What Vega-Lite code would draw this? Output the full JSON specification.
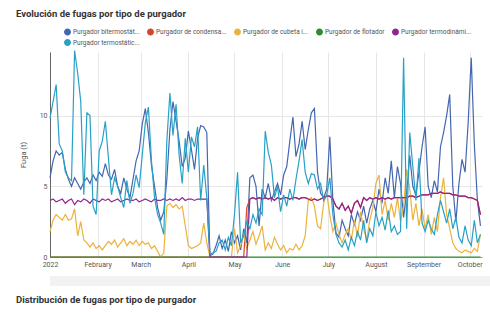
{
  "$schema": "https://vega.github.io/schema/vega-lite/v6.json",
  "padding": {"left": 16, "top": 8, "right": 0, "bottom": 0},
  "background": "white",
  "spacing": 8,
  "columns": 1,
  "align": "none",
  "config": {"view": {"stroke": null}, "font": "Roboto"},
  "datasets": {
    "fugas": [
      {"d":"2022-01-01","bi":5.6,"co":0,"cu":1.8,"fl":0,"td":4.0,"te":9.8},
      {"d":"2022-01-03","bi":6.8,"co":0,"cu":2.6,"fl":0,"td":4.1,"te":11.0},
      {"d":"2022-01-05","bi":7.5,"co":0,"cu":3.0,"fl":0,"td":3.9,"te":12.2},
      {"d":"2022-01-07","bi":7.2,"co":0,"cu":2.8,"fl":0,"td":4.0,"te":8.0},
      {"d":"2022-01-09","bi":7.4,"co":0,"cu":2.6,"fl":0,"td":4.1,"te":7.5},
      {"d":"2022-01-11","bi":6.2,"co":0,"cu":3.0,"fl":0,"td":3.8,"te":6.0},
      {"d":"2022-01-13","bi":5.5,"co":0,"cu":2.6,"fl":0,"td":4.0,"te":5.6},
      {"d":"2022-01-15","bi":5.0,"co":0,"cu":2.7,"fl":0,"td":4.1,"te":5.4},
      {"d":"2022-01-17","bi":5.6,"co":0,"cu":3.4,"fl":0,"td":3.7,"te":14.6},
      {"d":"2022-01-19","bi":5.2,"co":0,"cu":1.5,"fl":0,"td":4.0,"te":13.0},
      {"d":"2022-01-21","bi":4.8,"co":0,"cu":2.5,"fl":0,"td":3.9,"te":11.0},
      {"d":"2022-01-23","bi":5.3,"co":0,"cu":1.2,"fl":0,"td":4.1,"te":4.4},
      {"d":"2022-01-25","bi":5.6,"co":0,"cu":1.0,"fl":0,"td":4.0,"te":10.2},
      {"d":"2022-01-27","bi":5.2,"co":0,"cu":0.7,"fl":0,"td":3.8,"te":10.0},
      {"d":"2022-01-29","bi":5.8,"co":0,"cu":1.0,"fl":0,"td":4.1,"te":3.6},
      {"d":"2022-01-31","bi":5.4,"co":0,"cu":0.6,"fl":0,"td":4.0,"te":3.0},
      {"d":"2022-02-02","bi":6.0,"co":0,"cu":0.8,"fl":0,"td":3.9,"te":7.5},
      {"d":"2022-02-04","bi":5.7,"co":0,"cu":0.5,"fl":0,"td":4.1,"te":8.2},
      {"d":"2022-02-06","bi":6.6,"co":0,"cu":0.8,"fl":0,"td":4.0,"te":9.6},
      {"d":"2022-02-08","bi":5.8,"co":0,"cu":1.1,"fl":0,"td":4.1,"te":7.0},
      {"d":"2022-02-10","bi":5.5,"co":0,"cu":0.9,"fl":0,"td":3.9,"te":4.4},
      {"d":"2022-02-12","bi":6.2,"co":0,"cu":1.2,"fl":0,"td":4.0,"te":5.6},
      {"d":"2022-02-14","bi":5.0,"co":0,"cu":0.7,"fl":0,"td":4.1,"te":5.0},
      {"d":"2022-02-16","bi":4.5,"co":0,"cu":1.0,"fl":0,"td":3.9,"te":4.2},
      {"d":"2022-02-18","bi":5.6,"co":0,"cu":1.3,"fl":0,"td":4.0,"te":3.5},
      {"d":"2022-02-20","bi":4.8,"co":0,"cu":0.8,"fl":0,"td":4.1,"te":5.4},
      {"d":"2022-02-22","bi":4.2,"co":0,"cu":1.1,"fl":0,"td":4.0,"te":3.8},
      {"d":"2022-02-24","bi":5.5,"co":0,"cu":0.9,"fl":0,"td":4.0,"te":4.5},
      {"d":"2022-02-26","bi":6.8,"co":0,"cu":1.2,"fl":0,"td":4.1,"te":5.8},
      {"d":"2022-02-28","bi":7.5,"co":0,"cu":0.8,"fl":0,"td":3.9,"te":4.9},
      {"d":"2022-03-02","bi":9.4,"co":0,"cu":1.1,"fl":0,"td":4.0,"te":7.2},
      {"d":"2022-03-04","bi":10.5,"co":0,"cu":0.9,"fl":0,"td":4.1,"te":9.5},
      {"d":"2022-03-06","bi":8.8,"co":0,"cu":1.0,"fl":0,"td":4.0,"te":10.6},
      {"d":"2022-03-08","bi":6.5,"co":0,"cu":0.6,"fl":0,"td":3.9,"te":6.8},
      {"d":"2022-03-10","bi":5.0,"co":0,"cu":0.8,"fl":0,"td":4.1,"te":4.2},
      {"d":"2022-03-12","bi":3.5,"co":0,"cu":0.4,"fl":0,"td":4.0,"te":3.0},
      {"d":"2022-03-14","bi":2.6,"co":0,"cu":0.0,"fl":0,"td":4.0,"te":2.4},
      {"d":"2022-03-16","bi":3.2,"co":0,"cu":0.3,"fl":0,"td":4.1,"te":1.6},
      {"d":"2022-03-18","bi":5.5,"co":0,"cu":3.6,"fl":0,"td":4.0,"te":8.2},
      {"d":"2022-03-20","bi":9.0,"co":0,"cu":3.8,"fl":0,"td":4.1,"te":11.6},
      {"d":"2022-03-22","bi":11.0,"co":0,"cu":3.5,"fl":0,"td":4.0,"te":8.6},
      {"d":"2022-03-24","bi":9.6,"co":0,"cu":3.7,"fl":0,"td":4.1,"te":10.8},
      {"d":"2022-03-26","bi":8.2,"co":0,"cu":3.4,"fl":0,"td":4.0,"te":7.2},
      {"d":"2022-03-28","bi":6.4,"co":0,"cu":3.6,"fl":0,"td":4.2,"te":5.2},
      {"d":"2022-03-30","bi":7.0,"co":0,"cu":2.2,"fl":0,"td":4.0,"te":8.4},
      {"d":"2022-04-01","bi":8.9,"co":0,"cu":0.8,"fl":0,"td":4.1,"te":6.0},
      {"d":"2022-04-03","bi":7.6,"co":0,"cu":0.6,"fl":0,"td":4.1,"te":8.5},
      {"d":"2022-04-05","bi":6.2,"co":0,"cu":0.7,"fl":0,"td":4.0,"te":7.8},
      {"d":"2022-04-07","bi":8.4,"co":0,"cu":0.8,"fl":0,"td":4.1,"te":9.2},
      {"d":"2022-04-09","bi":9.3,"co":0,"cu":1.0,"fl":0,"td":4.1,"te":4.0},
      {"d":"2022-04-11","bi":9.2,"co":0,"cu":2.4,"fl":0,"td":4.1,"te":6.5},
      {"d":"2022-04-13","bi":8.8,"co":0,"cu":1.0,"fl":0,"td":4.1,"te":4.2},
      {"d":"2022-04-15","bi":0.1,"co":0,"cu":0,"fl":0,"td":0,"te":0.2},
      {"d":"2022-04-17","bi":0.2,"co":0,"cu":0,"fl":0,"td":0,"te":0.3},
      {"d":"2022-04-19","bi":0.8,"co":0,"cu":0,"fl":0,"td":0,"te":0.4},
      {"d":"2022-04-21","bi":1.5,"co":0,"cu":0,"fl":0,"td":0,"te":1.0},
      {"d":"2022-04-23","bi":0.6,"co":0,"cu":0,"fl":0,"td":0,"te":1.2},
      {"d":"2022-04-25","bi":1.2,"co":0,"cu":0,"fl":0,"td":0,"te":0.5},
      {"d":"2022-04-27","bi":0.4,"co":0,"cu":0,"fl":0,"td":0,"te":1.4},
      {"d":"2022-04-29","bi":1.8,"co":0,"cu":0,"fl":0,"td":0,"te":0.8},
      {"d":"2022-05-01","bi":1.0,"co":0,"cu":2.0,"fl":0,"td":0,"te":3.0},
      {"d":"2022-05-03","bi":1.5,"co":0,"cu":0.3,"fl":0,"td":0,"te":6.0},
      {"d":"2022-05-05","bi":0.5,"co":0,"cu":0.8,"fl":0,"td":0,"te":1.0},
      {"d":"2022-05-07","bi":2.0,"co":0,"cu":1.6,"fl":0,"td":0,"te":1.5},
      {"d":"2022-05-09","bi":1.0,"co":3.5,"cu":0.6,"fl":0,"td":0,"te":2.5},
      {"d":"2022-05-11","bi":5.6,"co":4.1,"cu":1.2,"fl":0,"td":4.1,"te":2.0},
      {"d":"2022-05-13","bi":5.8,"co":4.2,"cu":1.8,"fl":0,"td":4.2,"te":3.0},
      {"d":"2022-05-15","bi":5.0,"co":4.1,"cu":0.9,"fl":0,"td":4.1,"te":2.4},
      {"d":"2022-05-17","bi":2.2,"co":4.2,"cu":1.5,"fl":0,"td":4.2,"te":3.4},
      {"d":"2022-05-19","bi":4.8,"co":4.1,"cu":2.2,"fl":0,"td":4.1,"te":3.0},
      {"d":"2022-05-21","bi":4.2,"co":4.2,"cu":0.5,"fl":0,"td":4.2,"te":8.9},
      {"d":"2022-05-23","bi":5.2,"co":4.1,"cu":1.0,"fl":0,"td":4.1,"te":7.4},
      {"d":"2022-05-25","bi":4.0,"co":4.2,"cu":0.6,"fl":0,"td":4.2,"te":6.5},
      {"d":"2022-05-27","bi":4.6,"co":4.0,"cu":1.4,"fl":0,"td":4.0,"te":4.2},
      {"d":"2022-05-29","bi":5.2,"co":4.2,"cu":0.9,"fl":0,"td":4.2,"te":5.0},
      {"d":"2022-05-31","bi":4.4,"co":4.1,"cu":0.5,"fl":0,"td":4.1,"te":3.2},
      {"d":"2022-06-02","bi":5.8,"co":4.2,"cu":0.8,"fl":0,"td":4.2,"te":4.4},
      {"d":"2022-06-04","bi":6.4,"co":4.2,"cu":0.3,"fl":0,"td":4.2,"te":3.6},
      {"d":"2022-06-06","bi":8.2,"co":4.1,"cu":0.6,"fl":0,"td":4.1,"te":4.8},
      {"d":"2022-06-08","bi":9.9,"co":4.2,"cu":0.5,"fl":0,"td":4.2,"te":4.0},
      {"d":"2022-06-10","bi":7.1,"co":4.2,"cu":0.9,"fl":0,"td":4.2,"te":5.5},
      {"d":"2022-06-12","bi":8.0,"co":4.1,"cu":0.5,"fl":0,"td":4.1,"te":6.8},
      {"d":"2022-06-14","bi":9.6,"co":4.2,"cu":0.8,"fl":0,"td":4.2,"te":8.3},
      {"d":"2022-06-16","bi":7.6,"co":4.2,"cu":1.5,"fl":0,"td":4.2,"te":6.0},
      {"d":"2022-06-18","bi":9.0,"co":4.1,"cu":4.0,"fl":0,"td":4.1,"te":5.2},
      {"d":"2022-06-20","bi":10.2,"co":4.0,"cu":4.2,"fl":0,"td":4.0,"te":5.9},
      {"d":"2022-06-22","bi":10.5,"co":4.1,"cu":3.6,"fl":0,"td":4.1,"te":5.8},
      {"d":"2022-06-24","bi":6.0,"co":4.0,"cu":2.2,"fl":0,"td":4.0,"te":4.8},
      {"d":"2022-06-26","bi":4.5,"co":4.1,"cu":2.0,"fl":0,"td":4.1,"te":5.2},
      {"d":"2022-06-28","bi":4.2,"co":4.2,"cu":3.8,"fl":0,"td":4.2,"te":4.0},
      {"d":"2022-06-30","bi":4.8,"co":4.3,"cu":4.5,"fl":0,"td":4.3,"te":4.4},
      {"d":"2022-07-02","bi":8.5,"co":4.3,"cu":3.0,"fl":0,"td":4.3,"te":5.6},
      {"d":"2022-07-04","bi":4.0,"co":4.1,"cu":1.8,"fl":0,"td":4.1,"te":3.0},
      {"d":"2022-07-06","bi":1.7,"co":3.6,"cu":2.4,"fl":0,"td":3.6,"te":1.6},
      {"d":"2022-07-08","bi":1.4,"co":3.4,"cu":1.6,"fl":0,"td":3.4,"te":1.0},
      {"d":"2022-07-10","bi":2.6,"co":3.8,"cu":1.0,"fl":0,"td":3.8,"te":0.7},
      {"d":"2022-07-12","bi":2.0,"co":3.3,"cu":1.6,"fl":0,"td":3.3,"te":1.2},
      {"d":"2022-07-14","bi":1.5,"co":3.6,"cu":2.0,"fl":0,"td":3.6,"te":0.5},
      {"d":"2022-07-16","bi":3.0,"co":3.1,"cu":1.2,"fl":0,"td":3.1,"te":1.4},
      {"d":"2022-07-18","bi":2.3,"co":3.8,"cu":2.6,"fl":0,"td":3.8,"te":0.8},
      {"d":"2022-07-20","bi":3.2,"co":4.0,"cu":1.4,"fl":0,"td":4.0,"te":1.8},
      {"d":"2022-07-22","bi":2.6,"co":3.5,"cu":3.2,"fl":0,"td":3.5,"te":1.2},
      {"d":"2022-07-24","bi":3.6,"co":4.2,"cu":2.0,"fl":0,"td":4.2,"te":2.6},
      {"d":"2022-07-26","bi":2.4,"co":4.0,"cu":1.2,"fl":0,"td":4.0,"te":1.0},
      {"d":"2022-07-28","bi":3.4,"co":4.2,"cu":2.6,"fl":0,"td":4.2,"te":2.0},
      {"d":"2022-07-30","bi":4.0,"co":4.1,"cu":3.5,"fl":0,"td":4.1,"te":1.5},
      {"d":"2022-08-01","bi":3.2,"co":4.2,"cu":5.2,"fl":0,"td":4.2,"te":3.2},
      {"d":"2022-08-03","bi":4.8,"co":4.1,"cu":5.8,"fl":0,"td":4.1,"te":2.2},
      {"d":"2022-08-05","bi":3.8,"co":4.2,"cu":3.0,"fl":0,"td":4.2,"te":2.8},
      {"d":"2022-08-07","bi":5.6,"co":4.1,"cu":4.0,"fl":0,"td":4.1,"te":1.9},
      {"d":"2022-08-09","bi":4.5,"co":4.2,"cu":2.6,"fl":0,"td":4.2,"te":3.3},
      {"d":"2022-08-11","bi":6.8,"co":4.1,"cu":3.8,"fl":0,"td":4.1,"te":1.8},
      {"d":"2022-08-13","bi":4.2,"co":4.2,"cu":2.8,"fl":0,"td":4.2,"te":2.2},
      {"d":"2022-08-15","bi":6.4,"co":4.2,"cu":4.2,"fl":0,"td":4.2,"te":1.6},
      {"d":"2022-08-17","bi":5.2,"co":4.2,"cu":2.5,"fl":0,"td":4.2,"te":1.8},
      {"d":"2022-08-19","bi":2.8,"co":4.2,"cu":3.6,"fl":0,"td":4.2,"te":14.1},
      {"d":"2022-08-21","bi":4.6,"co":4.2,"cu":6.2,"fl":0,"td":4.2,"te":2.0},
      {"d":"2022-08-23","bi":7.2,"co":4.3,"cu":4.8,"fl":0,"td":4.3,"te":8.8},
      {"d":"2022-08-25","bi":5.0,"co":4.3,"cu":2.6,"fl":0,"td":4.3,"te":6.4},
      {"d":"2022-08-27","bi":4.4,"co":4.2,"cu":3.8,"fl":0,"td":4.2,"te":4.0},
      {"d":"2022-08-29","bi":6.0,"co":4.3,"cu":2.2,"fl":0,"td":4.3,"te":7.0},
      {"d":"2022-08-31","bi":7.8,"co":4.4,"cu":3.4,"fl":0,"td":4.4,"te":2.4},
      {"d":"2022-09-02","bi":9.2,"co":4.4,"cu":2.0,"fl":0,"td":4.4,"te":1.8},
      {"d":"2022-09-04","bi":5.0,"co":4.4,"cu":3.0,"fl":0,"td":4.4,"te":2.6},
      {"d":"2022-09-06","bi":4.2,"co":4.5,"cu":1.6,"fl":0,"td":4.5,"te":2.0},
      {"d":"2022-09-08","bi":5.4,"co":4.5,"cu":2.8,"fl":0,"td":4.5,"te":1.6},
      {"d":"2022-09-10","bi":4.6,"co":4.5,"cu":1.8,"fl":0,"td":4.5,"te":3.0},
      {"d":"2022-09-12","bi":7.8,"co":4.6,"cu":4.2,"fl":0,"td":4.6,"te":4.0},
      {"d":"2022-09-14","bi":8.8,"co":4.5,"cu":5.6,"fl":0,"td":4.5,"te":3.2},
      {"d":"2022-09-16","bi":10.0,"co":4.5,"cu":3.0,"fl":0,"td":4.5,"te":2.4},
      {"d":"2022-09-18","bi":11.5,"co":4.5,"cu":2.0,"fl":0,"td":4.5,"te":3.4},
      {"d":"2022-09-20","bi":5.0,"co":4.4,"cu":1.0,"fl":0,"td":4.4,"te":2.0},
      {"d":"2022-09-22","bi":2.5,"co":4.4,"cu":0.6,"fl":0,"td":4.4,"te":2.8},
      {"d":"2022-09-24","bi":5.2,"co":4.3,"cu":0.4,"fl":0,"td":4.3,"te":1.4},
      {"d":"2022-09-26","bi":6.9,"co":4.3,"cu":0.3,"fl":0,"td":4.3,"te":1.0},
      {"d":"2022-09-28","bi":6.0,"co":4.3,"cu":0.5,"fl":0,"td":4.3,"te":2.2},
      {"d":"2022-09-30","bi":9.5,"co":4.2,"cu":0.4,"fl":0,"td":4.2,"te":1.2},
      {"d":"2022-10-02","bi":14.1,"co":4.2,"cu":0.3,"fl":0,"td":4.2,"te":0.8},
      {"d":"2022-10-04","bi":8.0,"co":4.1,"cu":0.6,"fl":0,"td":4.1,"te":2.6},
      {"d":"2022-10-06","bi":4.0,"co":4.0,"cu":0.4,"fl":0,"td":4.0,"te":1.0},
      {"d":"2022-10-08","bi":2.2,"co":3.0,"cu":1.6,"fl":0,"td":3.0,"te":1.6}
    ],
    "nombres": [
      {"k":"bi","s":"Purgador bitermostático"},
      {"k":"co","s":"Purgador de condensado"},
      {"k":"cu","s":"Purgador de cubeta invertida"},
      {"k":"fl","s":"Purgador de flotador"},
      {"k":"td","s":"Purgador termodinámico"},
      {"k":"te","s":"Purgador termostático"}
    ]
  },
  "concat": [
    {
      "width": 432,
      "height": 205,
      "title": {"text": "Evolución de fugas por tipo de purgador", "anchor": "start", "frame": "group", "dx": -34, "fontSize": 9.5, "fontWeight": "bold", "color": "#333333", "offset": 30},
      "data": {"name": "fugas"},
      "transform": [
        {"fold": ["bi","co","cu","fl","td","te"], "as": ["k","v"]},
        {"lookup": "k", "from": {"data": {"name": "nombres"}, "key": "k", "fields": ["s"]}}
      ],
      "mark": {"type": "line", "strokeWidth": 1.2},
      "encoding": {
        "x": {
          "field": "d", "type": "temporal",
          "scale": {"domain": ["2022-01-01", "2022-10-09"]},
          "axis": {"title": null, "tickCount": {"interval": "month", "step": 1}, "labelFontSize": 7, "labelColor": "#555555", "ticks": false, "labelPadding": 3, "labelFlush": false, "gridColor": "#e6e6e6", "domainColor": "#999999", "labelOverlap": false}
        },
        "y": {
          "field": "v", "type": "quantitative",
          "scale": {"domain": [0, 14.5], "nice": false},
          "axis": {"title": "Fuga (t)", "values": [0, 5, 10], "labelFontSize": 7, "labelColor": "#555555", "ticks": false, "labelPadding": 3, "gridColor": "#e6e6e6", "domainColor": "#666666", "titleFontSize": 7.5, "titleFontWeight": "normal", "titleColor": "#555555", "titlePadding": 12}
        },
        "color": {
          "field": "s", "type": "nominal",
          "scale": {
            "domain": ["Purgador bitermostático", "Purgador de condensado", "Purgador de cubeta invertida", "Purgador de flotador", "Purgador termodinámico", "Purgador termostático"],
            "range": ["#4466b0", "#d4472c", "#ecb23e", "#2e8b2e", "#902590", "#27a2c6"]
          },
          "legend": {
            "title": null, "orient": "none", "legendX": 14, "legendY": -24, "direction": "horizontal", "columns": 5, "gridAlign": "none",
            "symbolType": "circle", "symbolSize": 12, "symbolStrokeWidth": 3.5, "symbolOpacity": 1,
            "labelFontSize": 6.5, "labelColor": "#555555", "labelLimit": 200, "labelOffset": 2,
            "columnPadding": 7, "rowPadding": 2.5, "clipHeight": 8,
            "labelExpr": "length(datum.label) > 20 ? substring(datum.label, 0, 20) + '...' : datum.label"
          }
        }
      }
    },
    {
      "width": 440,
      "height": 10,
      "view": {"fill": "#f2f2f2", "stroke": null},
      "data": {"values": [{}]},
      "mark": {"type": "text"},
      "encoding": {"text": {"value": ""}}
    },
    {
      "width": 440,
      "height": 14,
      "title": {"text": "Distribución de fugas por tipo de purgador", "anchor": "start", "frame": "group", "dx": -34, "fontSize": 9.5, "fontWeight": "bold", "color": "#333333", "offset": 4},
      "data": {"values": [{}]},
      "mark": {"type": "text"},
      "encoding": {"text": {"value": ""}}
    }
  ]
}
